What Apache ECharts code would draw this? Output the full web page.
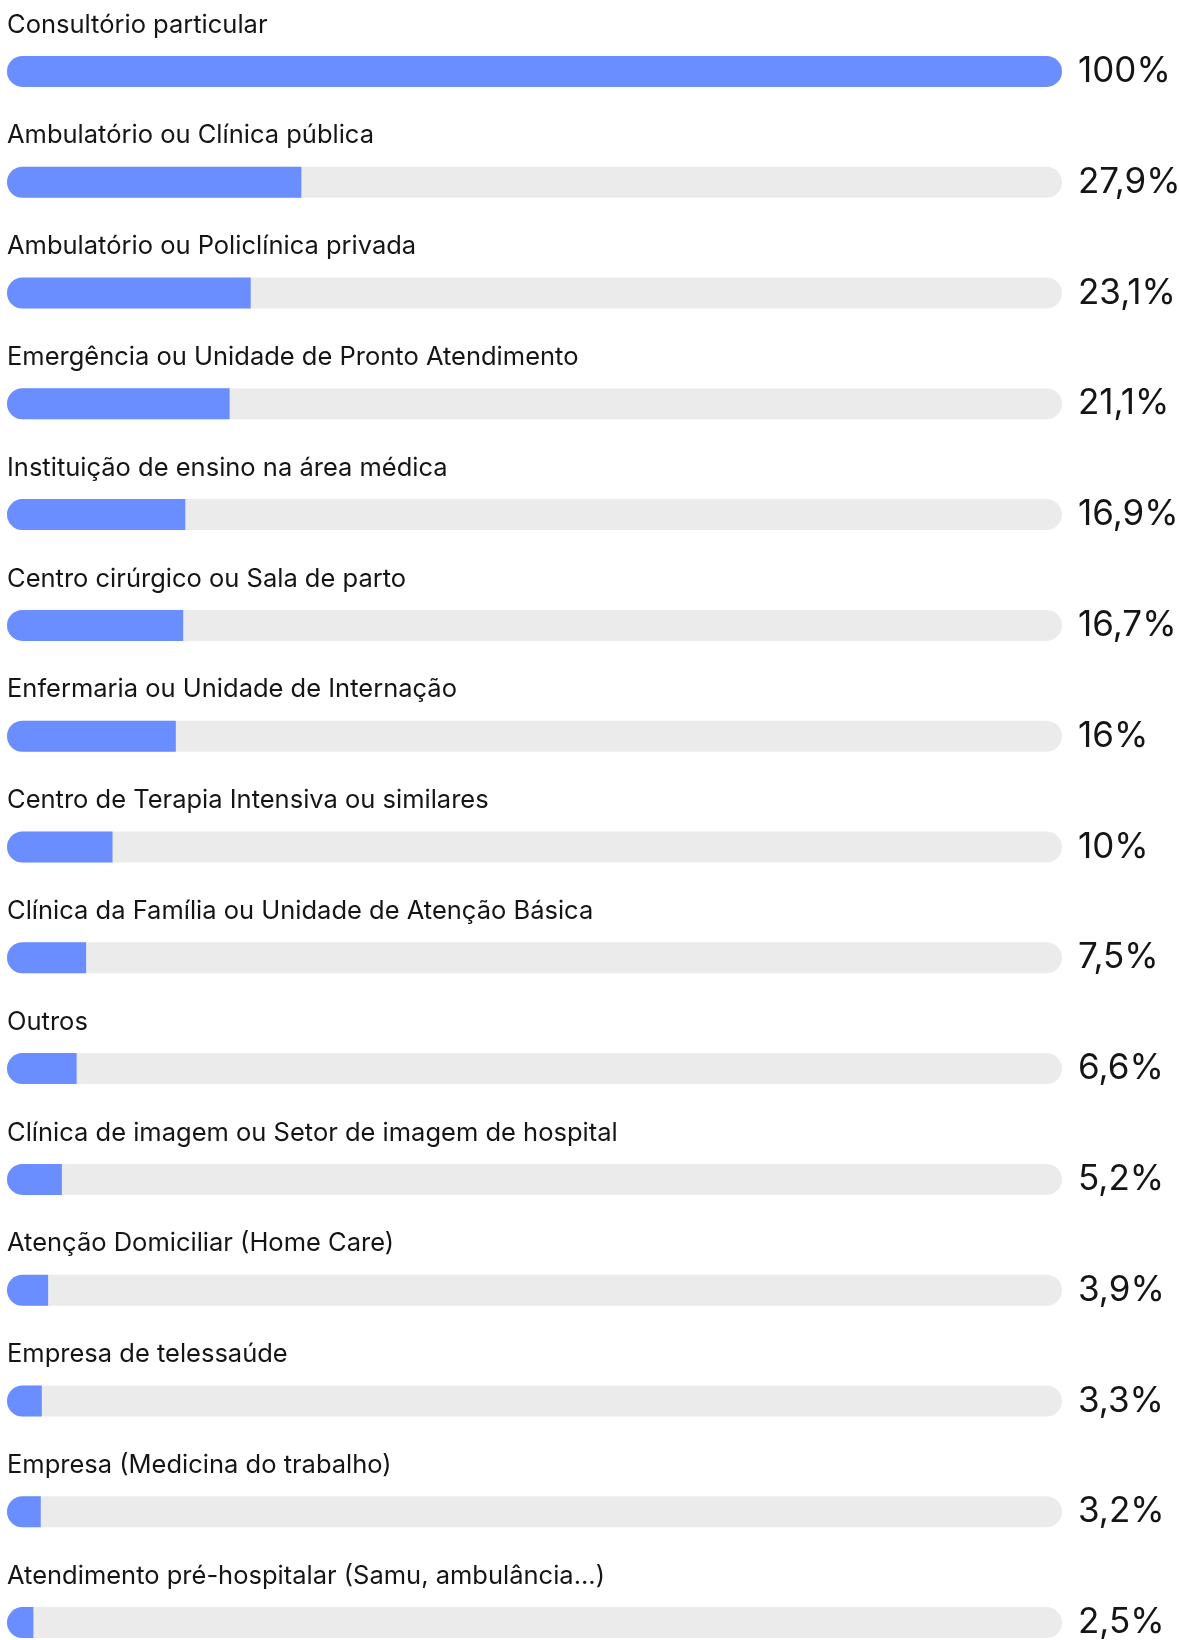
<!DOCTYPE html>
<html>
<head>
<meta charset="utf-8">
<script src="https://cdn.jsdelivr.net/npm/echarts@6/dist/echarts.min.js"></script>
<style>
  html, body { margin: 0; padding: 0; background: #fff; }
  #chart { width: 1179px; height: 1640px; }
</style>
</head>
<body>
<div id="chart"></div>
<script>
// Locais de atuação (percentual de respondentes)
const categories = [
  'Consultório particular',
  'Ambulatório ou Clínica pública',
  'Ambulatório ou Policlínica privada',
  'Emergência ou Unidade de Pronto Atendimento',
  'Instituição de ensino na área médica',
  'Centro cirúrgico ou Sala de parto',
  'Enfermaria ou Unidade de Internação',
  'Centro de Terapia Intensiva ou similares',
  'Clínica da Família ou Unidade de Atenção Básica',
  'Outros',
  'Clínica de imagem ou Setor de imagem de hospital',
  'Atenção Domiciliar (Home Care)',
  'Empresa de telessaúde',
  'Empresa (Medicina do trabalho)',
  'Atendimento pré-hospitalar (Samu, ambulância...)'
]
const values = [100, 27.9, 23.1, 21.1, 16.9, 16.7, 16, 10, 7.5, 6.6, 5.2, 3.9, 3.3, 3.2, 2.5]
const maxValue = 100

const FONT = 'Inter, "Noto Sans", sans-serif'
const BLUE = '#6a8eff'
const TRACK = '#ebebeb'
const R = 16

// formato pt-BR: vírgula decimal
const fmt = (v) => String(v).replace('.', ',') + '%'

const chart = echarts.init(document.getElementById('chart'))

chart.setOption({
  animation: false,
  // a última faixa passa da borda de baixo de propósito (barra cortada rente ao fim)
  grid: { left: 7, right: 117, top: 16, height: 1662, outerBoundsMode: 'none', containLabel: false },
  xAxis: { type: 'value', min: 0, max: maxValue, show: false },
  yAxis: {
    type: 'category',
    data: categories,
    inverse: true,
    show: false
  },
  series: [
    {
      // trilho cinza + rótulo de valor à direita
      type: 'bar',
      barWidth: 31,
      barGap: '-100%',
      silent: true,
      z: 1,
      data: values.map(() => maxValue),
      itemStyle: { color: TRACK, borderRadius: R },
      label: {
        show: true,
        position: 'right',
        distance: 16,
        fontFamily: FONT,
        fontSize: 35,
        color: '#151515',
        formatter: (p) => fmt(values[p.dataIndex])
      }
    },
    {
      type: 'bar',
      barWidth: 31,
      z: 2,
      data: values.map((v) => ({
        value: v,
        itemStyle: { borderRadius: v >= maxValue ? R : [R, 0, 0, R] }
      })),
      itemStyle: { color: BLUE },
      label: {
        show: true,
        position: [0, -31],
        align: 'left',
        verticalAlign: 'middle',
        fontFamily: FONT,
        fontSize: 25.5,
        color: '#151515',
        formatter: (p) => categories[p.dataIndex]
      }
    }
  ]
})
</script>
</body>
</html>
